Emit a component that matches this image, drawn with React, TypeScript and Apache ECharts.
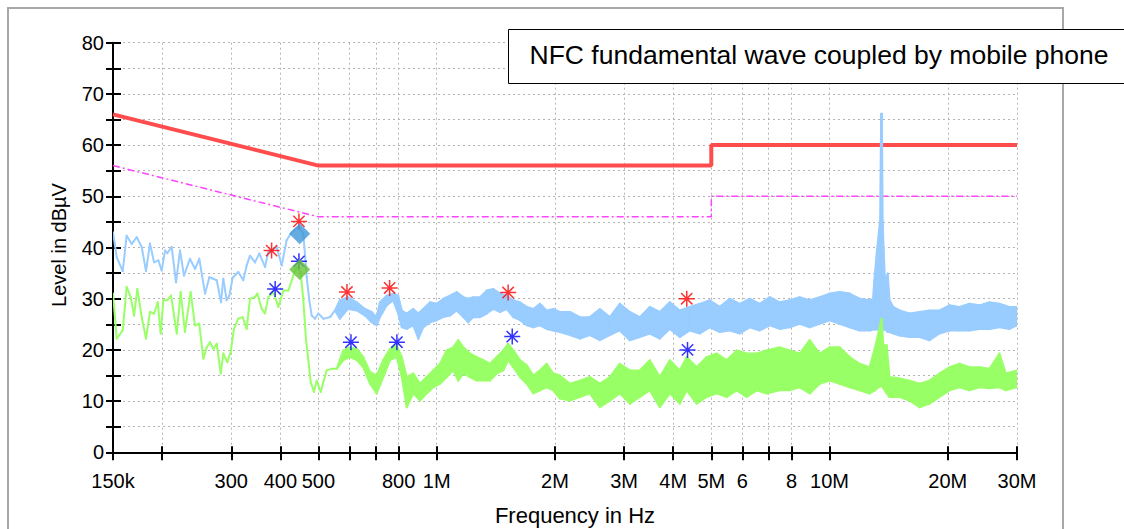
import React, { useEffect, useRef } from "react";
import * as echarts from "echarts";

// ---------- axis definition ----------
const F_MIN_KHZ = 150;
const F_MAX_KHZ = 30000;
const tickFreqsKHz = [150, 200, 300, 400, 500, 600, 700, 800, 1000, 2000, 3000, 4000, 5000, 6000, 7000, 8000, 10000, 20000, 30000];
const labelFreqsKHz = [150, 300, 400, 500, 800, 1000, 2000, 3000, 4000, 5000, 6000, 8000, 10000, 20000, 30000];
const labelTexts = ["150k", "300", "400", "500", "800", "1M", "2M", "3M", "4M", "5M", "6", "8", "10M", "20M", "30M"];
const Y_MIN = 0;
const Y_MAX = 80;
const Y_STEP = 5;

// ---------- limit lines [kHz, dBµV] ----------
const qpLimit = [[150, 66], [500, 56], [5000, 56], [5000, 60], [30000, 60]];
const avLimit = [[150, 56], [500, 46], [5000, 46], [5000, 50], [30000, 50]];

// ---------- peak trace (blue) ----------
// thin part [kHz, dB]
const peakThin = [
  [150, 43.0], [153.3, 38.1], [158.8, 35.4], [162.5, 42.3], [167.4, 40.7], [172.4, 42.0], [177.5, 40.1], [182, 35.4],
  [186.3, 40.8], [190.8, 37.1], [195.6, 37.5], [199.5, 35.5], [203.5, 39.4], [206.2, 38.9], [211.6, 40.1], [217, 33.2],
  [222.2, 39.4], [227.4, 34.5], [235.5, 37.8], [242.6, 35.8], [248.7, 37.8], [257.3, 31.0], [263.9, 34.2], [270, 33.9],
  [275.5, 33.6], [282.6, 29.3], [286.3, 33.9], [292, 29.7], [296.6, 30.6], [302.5, 34.1], [312.6, 35.2], [321.9, 33.6],
  [328.4, 36.5], [334.8, 38.4], [344.7, 37.1], [353.6, 38.8], [365.6, 36.2], [372.7, 39.1], [391.5, 40.1], [403.2, 36.5],
  [415, 41.4], [427.5, 43.0], [444.4, 44.0], [457.7, 42.7], [466.8, 34.2], [474, 29.7], [480.7, 26.7], [490, 26.1],
  [499.6, 27.1], [514.5, 26.1], [535, 26.4], [551, 27.7],
];
// dense part [kHz, upper dB, lower dB]
const peakDense = [
  [567, 29.7, 26.1], [595, 30.3, 28.0], [626, 29.3, 27.7], [657, 28.0, 26.7], [683, 27.4, 25.4], [703.5, 26.4, 24.8],
  [717, 29.3, 26.4], [746, 30.6, 28.7], [775, 31.0, 29.7], [798, 30.6, 27.1], [815, 27.7, 24.4], [839, 27.1, 24.1],
  [872, 28.0, 24.8], [898, 27.1, 22.2], [924, 28.0, 24.4], [962, 29.3, 25.4], [1000, 29.0, 25.8], [1040, 30.0, 26.4],
  [1081, 30.6, 26.7], [1124, 31.3, 27.7], [1169, 30.3, 26.4], [1203, 30.0, 25.4], [1239, 30.3, 26.4], [1289, 30.3, 26.4],
  [1341, 31.6, 27.1], [1394, 31.9, 28.0], [1449, 31.0, 27.4], [1507, 30.6, 28.0], [1567, 29.7, 26.4], [1629, 29.3, 25.8],
  [1695, 28.4, 24.8], [1762, 28.0, 24.4], [1831, 29.0, 24.8], [1905, 27.7, 24.1], [1981, 28.0, 23.8], [2058, 27.4, 23.5],
  [2183, 27.4, 22.9], [2315, 26.4, 22.2], [2454, 26.4, 22.9], [2602, 28.0, 21.9], [2759, 26.4, 22.9], [2925, 29.0, 23.8],
  [3102, 27.4, 21.9], [3289, 26.4, 22.5], [3487, 28.4, 23.2], [3698, 27.4, 22.2], [3921, 29.3, 24.1], [4157, 27.7, 22.5],
  [4408, 28.4, 23.8], [4674, 29.0, 23.2], [4956, 29.7, 24.4], [5254, 28.4, 23.5], [5571, 30.0, 23.8], [5907, 29.0, 23.2],
  [6263, 30.0, 24.4], [6641, 29.0, 23.8], [7041, 30.3, 24.8], [7466, 29.3, 24.1], [7916, 29.7, 24.4], [8393, 30.3, 25.1],
  [8899, 29.7, 24.4], [9435, 30.3, 25.1], [10004, 31.0, 25.8], [10607, 31.3, 25.1], [11247, 31.0, 24.4], [11925, 30.0, 23.8],
  [12644, 29.7, 23.8], [12901, 30.0, 24.0], [13000, 33.6, 24.0], [13200, 39.4, 24.0], [13450, 45.3, 24.0], [13530, 66.1, 24.0],
  [13590, 66.1, 24.0], [13650, 45.3, 24.0], [13720, 40.0, 24.0], [13840, 33.6, 24.0], [14060, 34.9, 23.5], [14210, 29.7, 23.5],
  [14530, 28.4, 23.2], [15072, 27.7, 22.8], [15981, 27.1, 22.5], [16944, 27.4, 22.5], [17966, 27.7, 21.9], [19049, 27.7, 23.2],
  [20198, 28.7, 23.8], [21416, 28.4, 23.8], [22707, 29.0, 23.8], [24076, 28.7, 24.1], [25528, 29.3, 24.1], [27067, 29.0, 24.4],
  [28699, 28.4, 24.1], [30000, 28.4, 24.8],
];

// ---------- average trace (green) ----------
const avgThin = [
  [150, 31.0], [153.3, 22.2], [158.8, 23.8], [162.5, 32.3], [166.4, 30.3], [169.7, 26.7], [173, 31.9], [177.5, 26.4],
  [182, 22.2], [186.3, 27.4], [190.8, 27.1], [195, 29.3], [198.4, 23.2], [201.5, 29.7], [206.2, 29.7], [210.8, 30.6],
  [218, 23.2], [223, 31.3], [228.7, 23.5], [236.4, 31.3], [242.6, 24.8], [248.7, 25.1], [254.7, 18.3], [259.8, 20.5],
  [264.9, 21.5], [270, 20.2], [275.5, 21.2], [282, 15.4], [286.3, 19.3], [293.1, 17.6], [299, 19.6], [304.8, 24.1],
  [312.6, 26.1], [320.7, 26.4], [328.4, 24.1], [334.8, 30.0], [344.7, 30.3], [349.5, 31.0], [358.7, 28.0], [365.6, 27.1],
  [372.7, 30.3], [383.9, 31.3], [395.3, 28.4], [407.1, 31.6], [419.3, 31.6], [431.6, 34.5], [440.3, 36.2], [450.6, 35.2],
  [457.7, 29.7], [465, 21.9], [471.3, 18.0], [477.9, 13.7], [487.2, 11.8], [495, 14.0], [506.8, 11.8], [514.5, 13.7],
  [524.8, 16.0], [540.4, 16.3], [556.5, 16.3],
];
const avgDense = [
  [578.6, 19.9, 18.0], [601.6, 20.5, 18.6], [626, 20.2, 18.0], [650.4, 18.6, 16.6], [676.5, 15.7, 13.4], [703.5, 15.0, 11.5],
  [731, 18.0, 14.7], [760.6, 20.2, 18.0], [791, 20.9, 18.6], [815, 18.6, 14.7], [839, 14.7, 8.8], [872, 15.4, 11.5],
  [907, 13.4, 10.1], [943, 14.7, 11.5], [980, 16.0, 12.7], [1019.5, 17.3, 13.4], [1060.5, 19.9, 14.7], [1102, 20.5, 16.0],
  [1135, 21.9, 14.0], [1169, 20.5, 15.4], [1215, 19.3, 14.7], [1264.5, 18.6, 14.0], [1314, 18.0, 14.0], [1367, 17.3, 14.0],
  [1422, 18.6, 15.4], [1478, 19.9, 16.0], [1521, 21.2, 18.0], [1567, 19.9, 16.6], [1629, 18.0, 14.7], [1695, 17.0, 13.4],
  [1762, 15.0, 11.5], [1831, 16.0, 12.1], [1905, 17.3, 12.7], [1981, 15.4, 12.1], [2058, 15.0, 10.5], [2183, 13.4, 10.1],
  [2315, 14.0, 10.8], [2454, 14.7, 11.5], [2602, 13.4, 8.8], [2759, 14.7, 10.1], [2925, 17.3, 11.5], [3102, 16.0, 9.5],
  [3289, 16.0, 10.8], [3487, 18.0, 12.1], [3698, 14.7, 8.8], [3921, 18.0, 11.5], [4157, 16.0, 9.5], [4329, 18.6, 12.1],
  [4589, 16.6, 9.5], [4867, 18.6, 10.8], [5161, 19.3, 11.5], [5473, 18.0, 10.8], [5804, 19.9, 12.1], [6153, 19.3, 10.8],
  [6525, 19.3, 12.1], [6918, 19.9, 11.5], [7466, 20.5, 12.1], [7916, 19.9, 12.1], [8393, 19.3, 12.7], [8899, 21.9, 11.5],
  [9435, 19.3, 13.4], [10004, 20.5, 14.0], [10607, 20.5, 13.4], [11247, 18.6, 12.7], [11925, 17.3, 12.1], [12644, 16.6, 11.5],
  [13054, 20.5, 12.1], [13308, 23.2, 12.7], [13560, 26.1, 13.0], [13704, 20.9, 12.5], [13978, 20.9, 11.5], [14215, 14.7, 10.8],
  [15072, 14.4, 10.8], [15981, 14.0, 10.1], [16944, 13.4, 8.8], [17966, 14.0, 9.5], [19049, 15.4, 10.8], [20198, 16.6, 12.1],
  [21416, 17.3, 12.7], [22707, 16.6, 12.1], [24076, 16.6, 12.7], [25528, 16.3, 12.5], [27067, 19.3, 12.7], [28100, 15.4, 12.1],
  [30000, 16.0, 12.7],
];

// ---------- markers [kHz, dB] ----------
const peakMarkers = [[380, 39.4], [446, 45.1], [591, 31.3], [759, 32.1], [1520, 31.2], [4330, 30.0]];
const avgMarkers = [[388, 31.9], [446, 37.3], [605, 21.5], [792, 21.5], [1557, 22.6], [4350, 20.0]];
const qpResult = [[448, 42.7]];
const avResult = [[448, 35.7]];

const TITLE = "NFC fundamental wave coupled by mobile phone";
const X_NAME = "Frequency in Hz";
const Y_NAME = "Level in dBµV";

const FONT = "'Liberation Sans', Arial, Helvetica, sans-serif";
const lg = (kHz: number) => Math.log10(kHz * 1000);
const ASTERISK = "path://M10 0L10 20M0 10L20 10M2.93 2.93L17.07 17.07M2.93 17.07L17.07 2.93";

// segments [x1, hi1, lo1, x2, hi2, lo2] for the trace polygons
function buildSegments(thin: number[][], dense: number[][]) {
  const all = thin.map((p) => [p[0], p[1], p[1]]).concat(dense);
  const segs: number[][] = [];
  for (let i = 0; i < all.length - 1; i++) {
    const a = all[i];
    const b = all[i + 1];
    segs.push([lg(a[0]), a[1], a[2], lg(b[0]), b[1], b[2]]);
  }
  return segs;
}

function traceSeries(name: string, segs: number[][], color: string, z: number) {
  return {
    type: "custom",
    name,
    silent: true,
    clip: true,
    z,
    encode: { x: [0, 3], y: [1, 2, 4, 5] },
    data: segs,
    renderItem: (_params: any, api: any) => {
      const a = api.coord([api.value(0), api.value(1)]);
      const b = api.coord([api.value(3), api.value(4)]);
      const c = api.coord([api.value(3), api.value(5)]);
      const d = api.coord([api.value(0), api.value(2)]);
      return {
        type: "polygon",
        shape: { points: [a, b, c, d] },
        style: { fill: color, stroke: color, lineWidth: 2, lineJoin: "round" },
      };
    },
  };
}

export default function App() {
  const ref = useRef<HTMLDivElement>(null);

  useEffect(() => {
    if (!ref.current) return;
    const chart = echarts.init(ref.current, undefined, { renderer: "svg" });

    const xMin = lg(F_MIN_KHZ);
    const xMax = lg(F_MAX_KHZ);
    const tickVals = tickFreqsKHz.map(lg);
    const labelVals = labelFreqsKHz.map(lg);
    const fmtX = (v: number) => {
      for (let i = 0; i < labelVals.length; i++) if (Math.abs(labelVals[i] - v) < 1e-6) return labelTexts[i];
      return "";
    };

    const blue = "#99ccff";
    const green = "#99ff66";
    const gridLine = { show: true, lineStyle: { color: "#b4b4b4", type: [2, 3] as any, width: 1 } };
    const axisLineStyle = { color: "#000", width: 2 };

    const lineBase = {
      type: "line",
      showSymbol: false,
      symbol: "none",
      silent: true,
      animation: false,
      emphasis: { disabled: true },
    };

    const option: any = {
      animation: false,
      backgroundColor: "#ffffff",
      grid: { left: 113, right: 107, top: 42.7, bottom: 76.7, containLabel: false },
      xAxis: [
        {
          type: "value",
          min: xMin,
          max: xMax,
          axisLine: { show: true, onZero: false, lineStyle: axisLineStyle },
          axisTick: { show: true, inside: false, length: 8, customValues: tickVals, lineStyle: axisLineStyle },
          axisLabel: {
            show: true,
            customValues: labelVals,
            formatter: fmtX,
            margin: 19,
            color: "#000",
            fontSize: 20,
            fontFamily: FONT,
          },
          splitLine: gridLine,
        },
        {
          type: "value",
          min: xMin,
          max: xMax,
          position: "bottom",
          axisLine: { show: false, onZero: false },
          axisTick: { show: true, inside: true, length: 6, customValues: tickVals, lineStyle: axisLineStyle },
          axisLabel: { show: false },
          splitLine: { show: false },
        },
      ],
      yAxis: [
        {
          type: "value",
          min: Y_MIN,
          max: Y_MAX,
          interval: Y_STEP,
          axisLine: { show: true, onZero: false, lineStyle: axisLineStyle },
          axisTick: { show: true, inside: false, length: 7, lineStyle: axisLineStyle },
          axisLabel: {
            show: true,
            margin: 9,
            color: "#000",
            fontSize: 20,
            fontFamily: FONT,
            formatter: (v: number) => (v % 10 === 0 ? String(v) : ""),
          },
          splitLine: gridLine,
        },
        {
          type: "value",
          min: Y_MIN,
          max: Y_MAX,
          interval: Y_STEP,
          position: "left",
          axisLine: { show: false, onZero: false },
          axisTick: { show: true, inside: true, length: 8, lineStyle: axisLineStyle },
          axisLabel: { show: false },
          splitLine: { show: false },
        },
      ],
      series: [
        {
          ...lineBase,
          name: "QP limit",
          data: qpLimit.map((p) => [lg(p[0]), p[1]]),
          lineStyle: { color: "#ff4d4d", width: 4 },
          z: 2,
        },
        {
          ...lineBase,
          name: "AV limit",
          data: avLimit.map((p) => [lg(p[0]), p[1]]),
          lineStyle: { color: "#ff44ff", width: 1.5, type: [7, 3, 2, 3] },
          z: 2,
        },
        traceSeries("peak", buildSegments(peakThin, peakDense), blue, 3),
        traceSeries("average", buildSegments(avgThin, avgDense), green, 4),
        {
          type: "scatter",
          name: "peak markers",
          silent: true,
          symbol: ASTERISK,
          symbolSize: 16,
          symbolKeepAspect: true,
          data: peakMarkers.map((p) => [lg(p[0]), p[1]]),
          itemStyle: { color: "rgba(0,0,0,0)", borderColor: "#ff0000", borderWidth: 1.5 },
          z: 6,
        },
        {
          type: "scatter",
          name: "avg markers",
          silent: true,
          symbol: ASTERISK,
          symbolSize: 16,
          symbolKeepAspect: true,
          data: avgMarkers.map((p) => [lg(p[0]), p[1]]),
          itemStyle: { color: "rgba(0,0,0,0)", borderColor: "#0000ff", borderWidth: 1.5 },
          z: 6,
        },
        {
          type: "scatter",
          name: "QP result",
          silent: true,
          symbol: "diamond",
          symbolSize: 21,
          data: qpResult.map((p) => [lg(p[0]), p[1]]),
          itemStyle: { color: "#3f97d9" },
          z: 7,
        },
        {
          type: "scatter",
          name: "AV result",
          silent: true,
          symbol: "diamond",
          symbolSize: 21,
          data: avResult.map((p) => [lg(p[0]), p[1]]),
          itemStyle: { color: "#66c23a" },
          z: 7,
        },
      ],
      graphic: [
        {
          type: "rect",
          silent: true,
          z: 0,
          shape: { x: 8, y: 8, width: 1055, height: 540 },
          style: { fill: "none", stroke: "#a8a8a8", lineWidth: 2 },
        },
        {
          type: "rect",
          silent: true,
          z: 100,
          shape: { x: 508.5, y: 29.5, width: 640, height: 54 },
          style: { fill: "#ffffff", stroke: "#000000", lineWidth: 1 },
        },
        {
          type: "text",
          silent: true,
          z: 101,
          x: 819,
          y: 55,
          style: {
            text: TITLE,
            fill: "#000",
            font: `26.5px ${FONT}`,
            textAlign: "center",
            textVerticalAlign: "middle",
          },
        },
        {
          type: "text",
          silent: true,
          z: 101,
          x: 575,
          y: 515,
          style: {
            text: X_NAME,
            fill: "#000",
            font: `22px ${FONT}`,
            textAlign: "center",
            textVerticalAlign: "middle",
          },
        },
        {
          type: "text",
          silent: true,
          z: 101,
          x: 59,
          y: 245,
          rotation: Math.PI / 2,
          style: {
            text: Y_NAME,
            fill: "#000",
            font: `20px ${FONT}`,
            textAlign: "center",
            textVerticalAlign: "middle",
          },
        },
      ],
    };

    chart.setOption(option);
    return () => chart.dispose();
  }, []);

  return (
    <div
      ref={ref}
      style={{ position: "fixed", left: 0, top: 0, width: 1124, height: 529, background: "#fff" }}
    />
  );
}
